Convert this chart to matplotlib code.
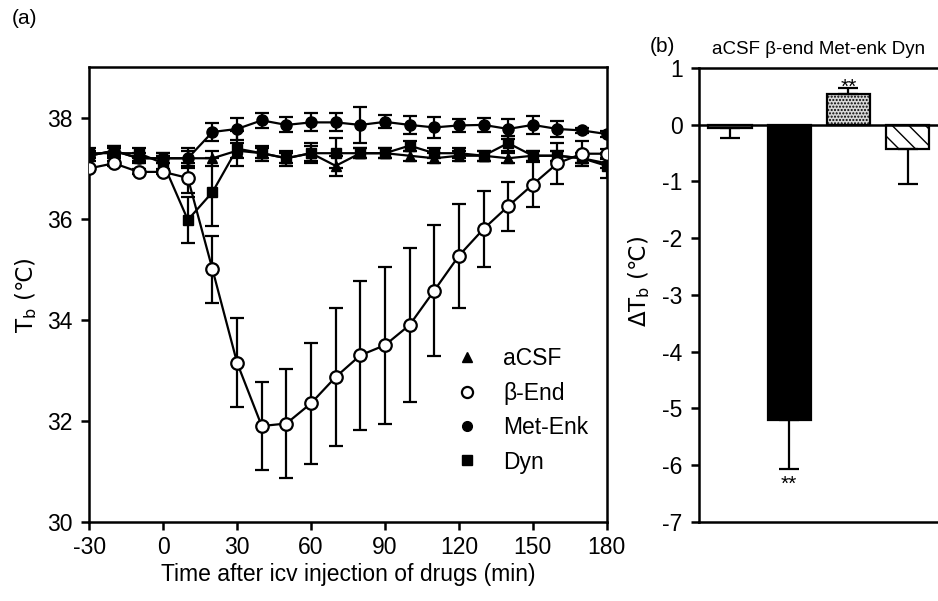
import matplotlib.pyplot as plt
import numpy as np
from matplotlib.lines import Line2D

plt.rcParams['font.family'] = ['Liberation Sans', 'DejaVu Sans']
plt.rcParams['mathtext.fontset'] = 'custom'
plt.rcParams['mathtext.rm'] = 'Liberation Sans'
plt.rcParams['mathtext.it'] = 'Liberation Sans'
plt.rcParams['axes.unicode_minus'] = False

# time points (min)
time = [-30, -20, -10, 0, 10, 20, 30, 40, 50, 60, 70, 80, 90, 100, 110, 120, 130, 140, 150, 160, 170, 180]

acsf = [37.25, 37.35, 37.2, 37.2, 37.2, 37.2, 37.35, 37.3, 37.2, 37.3, 37.05, 37.3, 37.3, 37.25,
        37.2, 37.25, 37.25, 37.2, 37.25, 37.25, 37.2, 37.1]
acsf_err = [0.1, 0.1, 0.1, 0.1, 0.15, 0.15, 0.15, 0.1, 0.1, 0.15, 0.2, 0.1, 0.1, 0.1,
            0.1, 0.1, 0.1, 0.1, 0.1, 0.1, 0.1, 0.1]

bend = [37.0, 37.1, 36.93, 36.93, 36.81, 35.0, 33.15, 31.9, 31.95, 32.35, 32.87, 33.3, 33.5, 33.9,
        34.58, 35.27, 35.8, 36.25, 36.68, 37.1, 37.29, 37.29]
bend_err = [0.05, 0.05, 0.05, 0.05, 0.3, 0.67, 0.88, 0.88, 1.08, 1.2, 1.36, 1.48, 1.55, 1.52,
            1.3, 1.03, 0.75, 0.48, 0.45, 0.4, 0.25, 0.1]

menk = [37.25, 37.35, 37.2, 37.2, 37.2, 37.72, 37.78, 37.95, 37.86, 37.91, 37.91, 37.86, 37.92, 37.86,
        37.81, 37.85, 37.86, 37.78, 37.86, 37.78, 37.75, 37.68]
menk_err = [0.05, 0.09, 0.05, 0.1, 0.2, 0.17, 0.22, 0.15, 0.15, 0.18, 0.18, 0.35, 0.13, 0.18,
            0.2, 0.13, 0.14, 0.2, 0.18, 0.15, 0.05, 0.05]

dyn = [37.3, 37.3, 37.3, 37.1, 35.98, 36.53, 37.39, 37.3, 37.2, 37.3, 37.3, 37.3, 37.3, 37.45,
       37.3, 37.3, 37.25, 37.5, 37.25, 37.25, 37.2, 37.05]
dyn_err = [0.1, 0.1, 0.1, 0.15, 0.46, 0.68, 0.35, 0.15, 0.15, 0.2, 0.3, 0.1, 0.1, 0.1,
           0.1, 0.1, 0.1, 0.15, 0.1, 0.1, 0.1, 0.25]

# panel b
groups = ['aCSF', 'β-end', 'Met-enk', 'Dyn']
delta = [-0.06, -5.2, 0.54, -0.43]
delta_err = [0.17, 0.87, 0.11, 0.62]

fig = plt.figure(figsize=(9.38, 6.01), dpi=100)
ax = fig.add_axes([0.0952, 0.1314, 0.5516, 0.7566])
bx = fig.add_axes([0.7455, 0.1314, 0.2545, 0.7556])

fs = 16.5
# labels with the degree-Celsius sign need a font that has it
lab_kw = dict(fontsize=fs, fontfamily='DejaVu Sans', math_fontfamily='dejavusans')

ebkw = dict(color='k', lw=1.6, elinewidth=1.6, capsize=5, capthick=1.6)
ax.errorbar(time, acsf, yerr=acsf_err, fmt='-^', ms=7, mfc='k', mec='k', zorder=3, **ebkw)
ax.errorbar(time, dyn, yerr=dyn_err, fmt='-s', ms=7, mfc='k', mec='k', zorder=3, **ebkw)
ax.errorbar(time, menk, yerr=menk_err, fmt='-o', ms=8, mfc='k', mec='k', zorder=4, **ebkw)
ax.errorbar(time, bend, yerr=bend_err, fmt='-o', ms=9, mfc='white', mec='k', mew=1.6, zorder=5, **ebkw)

ax.set_xlim(-30, 180)
ax.set_ylim(30, 39)
ax.set_xticks([-30, 0, 30, 60, 90, 120, 150, 180])
ax.set_yticks([30, 32, 34, 36, 38])
ax.tick_params(direction='out', length=6, width=1.8, labelsize=fs, pad=4)
ax.tick_params(axis='y', pad=6)
for s in ax.spines.values():
    s.set_linewidth(1.8)
ax.set_xlabel('Time after icv injection of drugs (min)', fontsize=fs, labelpad=3)
ax.set_ylabel('T$_\\mathrm{b}$ (\u2103)', labelpad=6, **lab_kw)

handles = [Line2D([], [], ls='none', marker='^', ms=7, mfc='k', mec='k'),
           Line2D([], [], ls='none', marker='o', ms=8, mfc='white', mec='k', mew=1.6),
           Line2D([], [], ls='none', marker='o', ms=7, mfc='k', mec='k'),
           Line2D([], [], ls='none', marker='s', ms=7, mfc='k', mec='k')]
ax.legend(handles, ['aCSF', 'β-End', 'Met-Enk', 'Dyn'], loc='upper left',
          bbox_to_anchor=(0.663, 0.43), frameon=False, fontsize=fs,
          handletextpad=1.0, labelspacing=0.5, handlelength=1.2)

# bar panel
xpos = np.arange(len(groups))
bars = bx.bar(xpos, delta, width=0.73, color='white', edgecolor='k', linewidth=1.6, zorder=2)
bars[1].set_facecolor('k')
bars[2].set_facecolor('#d8d8d8')
bars[2].set_hatch('.....')
bars[3].set_hatch('\\\\')
lower = [delta_err[i] if delta[i] < 0 else 0 for i in range(4)]
upper = [delta_err[i] if delta[i] > 0 else 0 for i in range(4)]
bx.errorbar(xpos, delta, yerr=[lower, upper], fmt='none', ecolor='k',
            elinewidth=1.6, capsize=7, capthick=1.6, zorder=3)
bx.axhline(0, color='k', lw=1.8, zorder=4)
bx.text(2, delta[2] + 0.02, '**', ha='center', va='baseline', fontsize=15)
bx.text(1, delta[1] - delta_err[1] - 0.1, '**', ha='center', va='top', fontsize=15)

bx.set_xlim(-0.52, 3.515)
bx.set_ylim(-7, 1)
bx.set_yticks(range(-7, 2))
bx.set_xticks([])
bx.spines['right'].set_visible(False)
for s in bx.spines.values():
    s.set_linewidth(1.8)
bx.tick_params(axis='y', direction='out', length=6, width=1.8, labelsize=fs, pad=6)
bx.set_ylabel('\u0394T$_\\mathrm{b}$ (\u2103)', **lab_kw)
bx.yaxis.set_label_coords(-0.2, 0.53)
bx.set_title('aCSF β-end Met-enk Dyn', fontsize=13.5, pad=10)

fig.text(0.012, 0.97, '(a)', fontsize=15, va='center')
fig.text(0.693, 0.922, '(b)', fontsize=15, va='center')

plt.savefig('out.png', dpi=100)
